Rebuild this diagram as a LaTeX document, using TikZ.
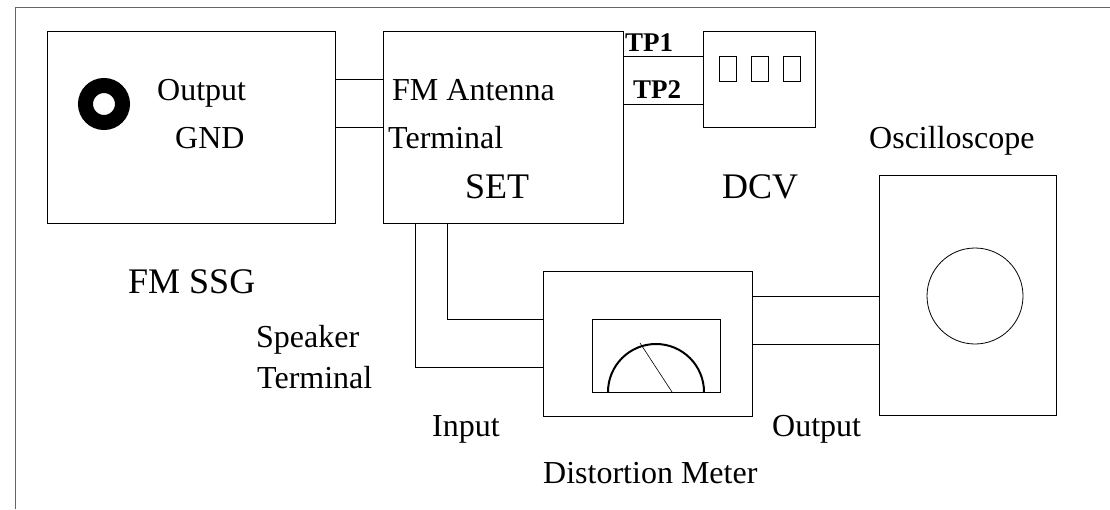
\documentclass[tikz,border=0pt]{standalone}
\usepackage{fontspec}
\setmainfont{Liberation Serif}
\tikzset{
  box/.style={draw, line width=0.8pt, inner sep=0pt, outer sep=0pt, anchor=north west},
  wire/.style={line width=0.8pt},
  lbl/.style={anchor=base west, inner sep=0pt, font=\fontsize{32}{36}\selectfont},
  biglbl/.style={lbl, font=\fontsize{36}{40}\selectfont},
  tplbl/.style={lbl, font=\fontsize{27}{30}\selectfont\bfseries},
}
\begin{document}
\begin{tikzpicture}[x=1pt, y=-1pt]
    \useasboundingbox (0,0) rectangle (1110,509);
    % frame
    \draw[line width=1pt, black!60] (1110,7) -- (15,7) -- (15,509);

    % instruments
    \node[box, minimum width=288pt, minimum height=192pt] (ssg) at (47,31) {};
    \node[box, minimum width=240pt, minimum height=192pt] (set) at (383,31) {};
    \node[box, minimum width=112pt, minimum height=96pt] (dcv) at (703,31) {};
    \node[box, minimum width=209pt, minimum height=145pt] (dist) at (543,271) {};
    \node[box, minimum width=128pt, minimum height=73pt] (dial) at (592,319) {};
    \node[box, minimum width=177pt, minimum height=240pt] (scope) at (879,175) {};
    \node[circle, draw, line width=0.8pt, inner sep=0pt, minimum size=96pt] (screen) at (975,296) {};
    \node[circle, draw, line width=15pt, inner sep=0pt, minimum size=37pt] (jack) at (104,104) {};
    \foreach \i in {0,1,2}
        \node[box, line width=0.6pt, minimum width=17pt, minimum height=25pt] (digit\i) at (719+32*\i,56) {};

    % meter needle
    \draw[line width=2pt] (608,392) arc[start angle=180, end angle=0, radius=48pt];
    \draw[line width=0.6pt] (672,392) -- (640,343);

    % wires
    \coordinate (ant1) at (0,79);
    \coordinate (ant2) at (0,127);
    \coordinate (tp1) at (0,56);
    \coordinate (tp2) at (0,104);
    \coordinate (spk1) at (415,367);
    \coordinate (spk2) at (447,319);
    \coordinate (out1) at (0,296);
    \coordinate (out2) at (0,344);
    \draw[wire] (ssg.east |- ant1) -- (set.west |- ant1);
    \draw[wire] (ssg.east |- ant2) -- (set.west |- ant2);
    \draw[wire] (set.east |- tp1) -- (dcv.west |- tp1);
    \draw[wire] (set.east |- tp2) -- (dcv.west |- tp2);
    \draw[wire] (set.south -| spk1) -- (spk1) -- (dist.west |- spk1);
    \draw[wire] (set.south -| spk2) -- (spk2) -- (dist.west |- spk2);
    \draw[wire] (dist.east |- out1) -- (scope.west |- out1);
    \draw[wire] (dist.east |- out2) -- (scope.west |- out2);

    % labels
    \node[lbl] (outlbl) at (157,100) {Output};
    \node[lbl] (gndlbl) at (175,148) {GND};
    \node[lbl] (antlbl) at (392,100) {FM Antenna};
    \node[lbl] (termlbl) at (388,148) {Terminal};
    \node[biglbl] (setlbl) at (465,198) {SET};
    \node[biglbl] (dcvlbl) at (722,198) {DCV};
    \node[tplbl] (tponelbl) at (625,51) {TP1};
    \node[tplbl] (tptwolbl) at (633,98) {TP2};
    \node[lbl] (scopelbl) at (869,148) {Oscilloscope};
    \node[biglbl] (ssglbl) at (128,293) {FM SSG};
    \node[lbl] (spklbl) at (256,347) {Speaker};
    \node[lbl] (spktermlbl) at (257,388) {Terminal};
    \node[lbl] (inlbl) at (432,436) {Input};
    \node[lbl] (outputlbl) at (772,436) {Output};
    \node[lbl] (distlbl) at (543,483) {Distortion Meter};
\end{tikzpicture}
\end{document}
